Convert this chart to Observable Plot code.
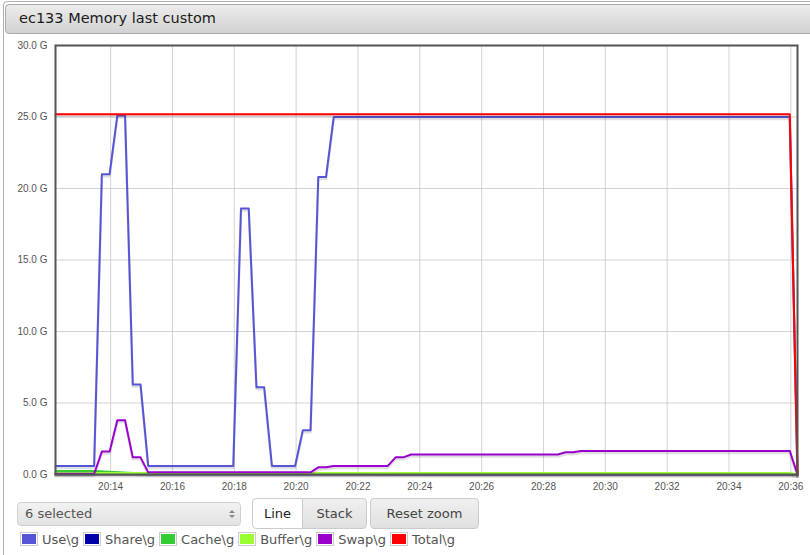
<!DOCTYPE html>
<html>
<head>
<meta charset="utf-8">
<script src="https://cdn.jsdelivr.net/npm/d3@7"></script>
<script src="https://cdn.jsdelivr.net/npm/@observablehq/plot@0.6"></script>
<style>
  html, body { margin: 0; padding: 0; background: #fff; width: 810px; height: 555px; overflow: hidden; font-family: "DejaVu Sans", sans-serif; }
  #wrap { position: absolute; left: 3px; top: 1px; width: 830px; height: 570px; border: 1px solid #b0b0b0; border-radius: 4px; }
  #title { position: absolute; left: 5px; top: 4px; width: 830px; height: 28px; border: 1px solid #aaa; border-radius: 4px;
           background: linear-gradient(#ececec, #d2d2d2); }
  #title span { position: absolute; left: 13px; top: 5px; font-size: 14.5px; color: #1a1a1a; }
  #chart { position: absolute; left: 0; top: 36px; }
  #sel { position: absolute; left: 17px; top: 502px; width: 222px; height: 22px; border: 1px solid #d0d0d0; border-radius: 4px;
         background: linear-gradient(#f2f2f2, #e2e2e2); font-size: 13px; color: #555; }
  #sel .t { position: absolute; left: 7px; top: 3px; }
  #sel .up { position: absolute; right: 5px; top: 7px; width: 0; height: 0; border-left: 3px solid transparent; border-right: 3px solid transparent; border-bottom: 3px solid #888; }
  #sel .dn { position: absolute; right: 5px; top: 12px; width: 0; height: 0; border-left: 3px solid transparent; border-right: 3px solid transparent; border-top: 3px solid #888; }
  .btn { position: absolute; top: 498px; border: 1px solid #ccc; font-size: 13px; color: #444; text-align: center; line-height: 29px;
         background: linear-gradient(#f0f0f0, #e0e0e0); box-sizing: border-box; height: 31px; }
  #legend { position: absolute; left: 20px; top: 532px; font-size: 13px; color: #545454; white-space: nowrap; }
  .li { display: inline-block; margin-right: 4px; }
  .sw { display: inline-block; width: 14px; height: 10px; border: 1px solid #ccc; padding: 1px; vertical-align: -2px; margin-right: 4px; background-clip: content-box; }
</style>
</head>
<body>
<div id="wrap"></div>
<div id="title"><span>ec133 Memory last custom</span></div>
<div id="chart"></div>
<div id="sel"><span class="t">6 selected</span><span class="up"></span><span class="dn"></span></div>
<div class="btn" style="left:252px;width:51px;background:#fff;border-radius:4px 0 0 4px;color:#222">Line</div>
<div class="btn" style="left:302px;width:65px;border-radius:0 4px 4px 0;">Stack</div>
<div class="btn" style="left:370px;width:109px;border-radius:4px;">Reset zoom</div>
<div id="legend"></div>
<script>
// ---- data ----
const seriesNames = ["Use\\g", "Share\\g", "Cache\\g", "Buffer\\g", "Swap\\g", "Total\\g"];
const seriesColors = ["#5555d5", "#0000a8", "#33cc33", "#99ff33", "#9900cc", "#ff0000"];

const useTimes = ["20:12:13","20:13:28","20:13:43","20:13:58","20:14:13","20:14:28","20:14:43","20:14:58","20:15:13",
                  "20:17:58","20:18:13","20:18:28","20:18:43","20:18:58","20:19:13","20:19:58","20:20:13","20:20:28",
                  "20:20:43","20:20:58","20:21:13","20:35:58","20:36:13"];
const useValues = [0.6,0.6,21.0,21.0,25.1,25.1,6.3,6.3,0.6,
                   0.6,18.6,18.6,6.1,6.1,0.6,0.6,3.1,3.1,
                   20.8,20.8,25.0,25.0,0.0];

const shareTimes = ["20:12:13","20:36:13"];
const shareValues = [0.02,0.0];

const cacheTimes = ["20:12:13","20:13:28","20:15:13","20:35:58","20:36:13"];
const cacheValues = [0.25,0.25,0.05,0.05,0.0];

const bufferTimes = ["20:12:13","20:35:58","20:36:13"];
const bufferValues = [0.1,0.1,0.0];

const swapTimes = ["20:12:13","20:13:28","20:13:43","20:13:58","20:14:13","20:14:28","20:14:43","20:14:58","20:15:13",
                   "20:20:28","20:20:43","20:20:58","20:21:13","20:22:58","20:23:13","20:23:28","20:23:43",
                   "20:28:28","20:28:43","20:28:58","20:29:13","20:35:58","20:36:13"];
const swapValues = [0.05,0.05,1.6,1.6,3.8,3.8,1.2,1.2,0.15,
                    0.15,0.5,0.5,0.6,0.6,1.2,1.2,1.4,
                    1.4,1.55,1.55,1.65,1.65,0.0];

const totalTimes = ["20:12:13","20:35:58","20:36:13"];
const totalValues = [25.2,25.2,0.0];

const yTicks = [0, 5, 10, 15, 20, 25, 30];

// ---- build table ----
const parseT = d3.utcParse("%H:%M:%S");
const allTimes = [useTimes, shareTimes, cacheTimes, bufferTimes, swapTimes, totalTimes];
const allValues = [useValues, shareValues, cacheValues, bufferValues, swapValues, totalValues];
const rows = [];
seriesNames.forEach((name, i) => {
  allTimes[i].forEach((t, j) => rows.push({series: name, t: parseT(t), v: allValues[i][j]}));
});

const marks = [
  Plot.gridX({ticks: d3.utcMinute.every(2), stroke: "#c8c8c8", strokeOpacity: 0.8}),
  Plot.gridY(yTicks, {stroke: "#c8c8c8", strokeOpacity: 0.8}),
];
seriesNames.forEach((name, i) => {
  const d = rows.filter(r => r.series === name);
  marks.push(Plot.line(d, {x: "t", y: "v", stroke: "#000", strokeOpacity: 0.12, strokeWidth: 2.5, dy: 2}));
  marks.push(Plot.line(d, {x: "t", y: "v", stroke: seriesColors[i], strokeWidth: 2}));
});
marks.push(Plot.frame({stroke: "#545454", strokeWidth: 2}));

const chart = Plot.plot({
  width: 810, height: 460,
  marginTop: 9, marginLeft: 55, marginRight: 13, marginBottom: 22,
  style: {fontFamily: "'Liberation Sans', Arial, sans-serif", fontSize: "10px", color: "#545454", background: "transparent"},
  x: {type: "utc", domain: [parseT("20:12:13"), parseT("20:36:13")], ticks: d3.utcMinute.every(2),
      tickFormat: d3.utcFormat("%H:%M"), tickSize: 0, tickPadding: 8, label: null},
  y: {domain: [0, 30], ticks: yTicks, tickFormat: d => d.toFixed(1) + " G", tickSize: 0, tickPadding: 8, label: null},
  marks
});
document.getElementById("chart").appendChild(chart);

// legend
const lg = document.getElementById("legend");
seriesNames.forEach((name, i) => {
  const s = document.createElement("span");
  s.className = "li";
  s.innerHTML = `<span class="sw" style="background-color:${seriesColors[i]}"></span>`;
  s.appendChild(document.createTextNode(name));
  lg.appendChild(s);
});
</script>
</body>
</html>
